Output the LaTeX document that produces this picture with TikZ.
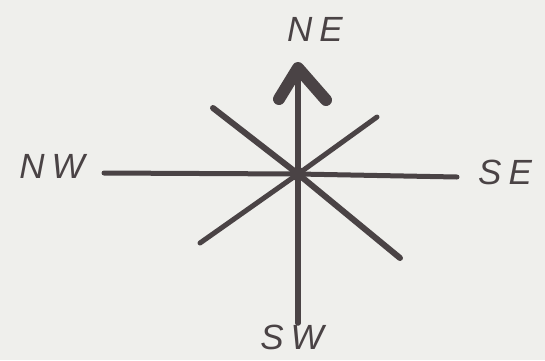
\documentclass[tikz,border=0pt]{standalone}
\usepackage{fontspec}
\setmainfont{Liberation Sans}
\begin{document}
\begin{tikzpicture}[x=1pt,y=-1pt,
  ink/.style={draw=inkc,line cap=round},
  lbl/.style={text=inkc,font=\fontsize{35}{40}\selectfont\itshape\addfontfeature{LetterSpace=20},inner sep=0pt}]
\definecolor{inkc}{HTML}{4A4345}
\definecolor{paper}{HTML}{EFEFEC}
\fill[paper] (0,0) rectangle (545,360);
\useasboundingbox (0,0) rectangle (545,360);
% center and endpoints
\coordinate (c) at (298,174);
\coordinate (n) at (298,68);
\coordinate (s) at (298,323);
\coordinate (w) at (104,173);
\coordinate (e) at (457,177);
\coordinate (ul) at (213,108);
\coordinate (lr) at (400,258);
\coordinate (ur) at (377,117);
\coordinate (ll) at (200,243);
\coordinate (wl) at (279,99);
\coordinate (wr) at (326,100);
% lines
\draw[ink,line width=5pt] (w) -- (c) -- (e);
\draw[ink,line width=5.5pt] (n) -- (c) -- (s);
\draw[ink,line width=6pt] (ul) -- (c) -- (lr);
\draw[ink,line width=5pt] (ur) -- (c) -- (ll);
\fill[inkc] (c) circle (7);
% arrowhead
\draw[ink,line width=12pt,line join=round] (wl) -- (n) -- (wr);
% labels
\node[lbl] (ne) at (315,29) {NE};
\node[lbl] (nw) at (52,166) {NW};
\node[lbl] (se) at (505,172) {SE};
\node[lbl] (sw) at (292,337) {SW};
\end{tikzpicture}
\end{document}
